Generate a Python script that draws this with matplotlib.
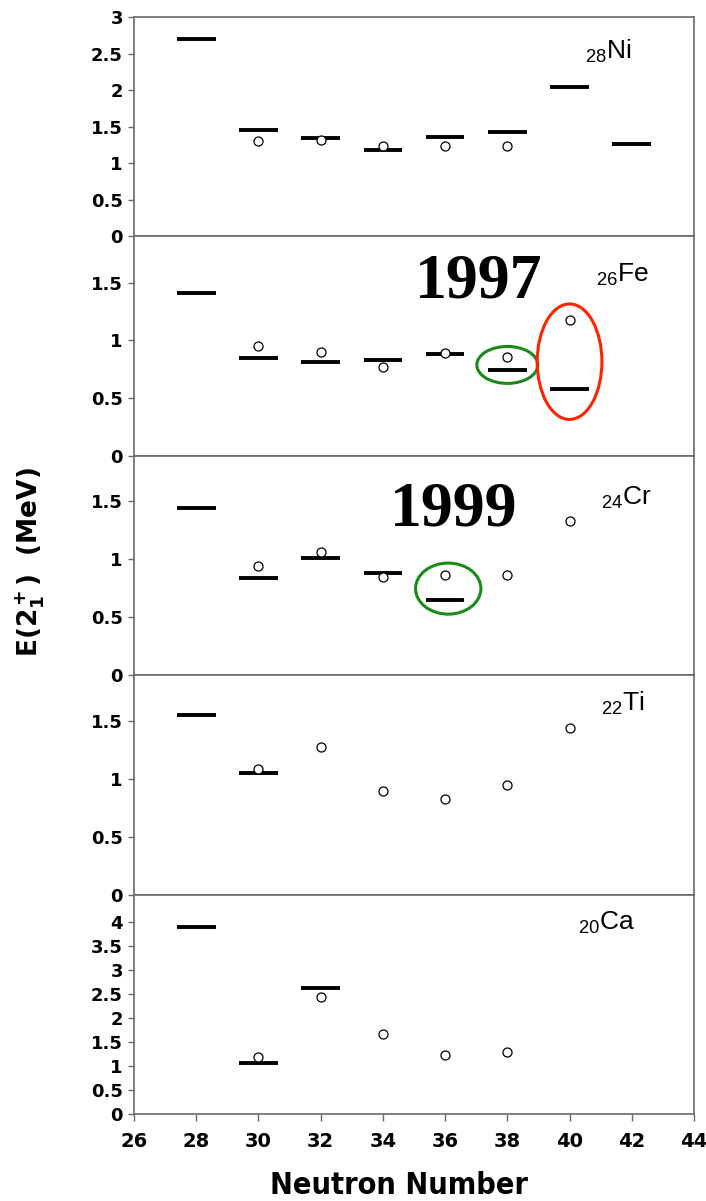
import matplotlib
matplotlib.use("Agg")
import matplotlib.pyplot as plt
from matplotlib.patches import Ellipse
from matplotlib.transforms import blended_transform_factory

# ---------------- data ----------------
ni_exp_n = [28, 30, 32, 34, 36, 38, 40, 42]
ni_exp_e = [2.70, 1.45, 1.34, 1.18, 1.355, 1.43, 2.04, 1.27]
ni_calc_n = [30, 32, 34, 36, 38]
ni_calc_e = [1.30, 1.32, 1.24, 1.24, 1.24]

fe_exp_n = [28, 30, 32, 34, 36, 38, 40]
fe_exp_e = [1.41, 0.845, 0.81, 0.83, 0.88, 0.74, 0.575]
fe_calc_n = [30, 32, 34, 36, 38, 40]
fe_calc_e = [0.95, 0.90, 0.765, 0.89, 0.855, 1.18]

cr_exp_n = [28, 30, 32, 34, 36]
cr_exp_e = [1.44, 0.84, 1.01, 0.88, 0.645]
cr_calc_n = [30, 32, 34, 36, 38, 40]
cr_calc_e = [0.94, 1.06, 0.85, 0.86, 0.86, 1.33]

ti_exp_n = [28, 30]
ti_exp_e = [1.556, 1.05]
ti_calc_n = [30, 32, 34, 36, 38, 40]
ti_calc_e = [1.085, 1.28, 0.90, 0.83, 0.95, 1.44]

ca_exp_n = [28, 30, 32]
ca_exp_e = [3.90, 1.06, 2.62]
ca_calc_n = [30, 32, 34, 36, 38]
ca_calc_e = [1.18, 2.44, 1.68, 1.23, 1.30]

element_z = ["28", "26", "24", "22", "20"]
element_sym = ["Ni", "Fe", "Cr", "Ti", "Ca"]
ymaxes = [3.0, 1.9, 1.89, 1.9, 4.58]
ytick_sets = [
    [0, 0.5, 1, 1.5, 2, 2.5, 3],
    [0, 0.5, 1, 1.5],
    [0, 0.5, 1, 1.5],
    [0, 0.5, 1, 1.5],
    [0, 0.5, 1, 1.5, 2, 2.5, 3, 3.5, 4],
]
xticks = [26, 28, 30, 32, 34, 36, 38, 40, 42, 44]

panels = [
    (ni_exp_n, ni_exp_e, ni_calc_n, ni_calc_e),
    (fe_exp_n, fe_exp_e, fe_calc_n, fe_calc_e),
    (cr_exp_n, cr_exp_e, cr_calc_n, cr_calc_e),
    (ti_exp_n, ti_exp_e, ti_calc_n, ti_calc_e),
    (ca_exp_n, ca_exp_e, ca_calc_n, ca_calc_e),
]
label_x = [40.5, 40.85, 41.0, 41.0, 40.28]
label_yfrac = [0.843, 0.826, 0.81, 0.87, 0.87]

# ---------------- figure ----------------
plt.rcParams['mathtext.fontset'] = 'custom'
plt.rcParams['mathtext.rm'] = 'Liberation Sans'
plt.rcParams['mathtext.it'] = 'Liberation Sans'
plt.rcParams['mathtext.bf'] = 'DejaVu Sans:bold'

fig = plt.figure(figsize=(7.06, 12.01), dpi=100)
gs = fig.add_gridspec(5, 1, left=134/706, right=694/706,
                      top=1-17/1201, bottom=1-1114/1201, hspace=0)

spine_col = "#6a6a6a"
half_w = 0.62
axes = []
for i, (en, ee, cn, ce) in enumerate(panels):
    ax = fig.add_subplot(gs[i])
    axes.append(ax)
    ax.set_xlim(26, 44)
    ax.set_ylim(0, ymaxes[i])
    ax.hlines(ee, [n - half_w for n in en], [n + half_w for n in en],
              colors="black", linewidth=2.8, zorder=3)
    ax.plot(cn, ce, linestyle="none", marker="o", markersize=6.5,
            markerfacecolor="white", markeredgecolor="black",
            markeredgewidth=0.9, zorder=4)
    ax.set_yticks(ytick_sets[i])
    ax.set_yticklabels([f"{t:g}" for t in ytick_sets[i]],
                       fontfamily="DejaVu Sans", fontweight="bold", fontsize=13)
    ax.tick_params(axis="y", direction="out", length=4, width=1.0,
                   color=spine_col, pad=4)
    for sp in ax.spines.values():
        sp.set_color(spine_col)
        sp.set_linewidth(1.2)
    trans = blended_transform_factory(ax.transData, ax.transAxes)
    ax.text(label_x[i], label_yfrac[i],
            r"$_{%s}$%s" % (element_z[i], element_sym[i]),
            transform=trans, ha="left", va="center",
            fontfamily="Liberation Sans", fontsize=19)
    if i < 4:
        ax.tick_params(axis="x", bottom=False, labelbottom=False)
    else:
        ax.set_xticks(xticks)
        ax.set_xticklabels([str(t) for t in xticks],
                           fontfamily="DejaVu Sans", fontweight="bold", fontsize=14)
        ax.tick_params(axis="x", direction="out", length=5, width=1.0,
                       color=spine_col, pad=8)

# annotations
ax_fe, ax_cr = axes[1], axes[2]
fig.text(479/706, 1-283/1201, "1997", ha="center", va="center",
         fontfamily="Liberation Serif", fontweight="bold", fontsize=46)
fig.text(454/706, 1-510/1201, "1999", ha="center", va="center",
         fontfamily="Liberation Serif", fontweight="bold", fontsize=46)

green = "#1a8a1a"
red = "#ff2200"
ax_fe.add_patch(Ellipse((38.0, 0.787), 1.96, 0.32, fill=False,
                        edgecolor=green, linewidth=2.2, zorder=5))
ax_fe.add_patch(Ellipse((40.0, 0.815), 2.08, 1.0, fill=False,
                        edgecolor=red, linewidth=2.2, zorder=5))
ax_cr.add_patch(Ellipse((36.1, 0.746), 2.1, 0.44, fill=False,
                        edgecolor=green, linewidth=2.2, zorder=5))

fig.text(30/706, 1-562/1201, r"E(2$\mathbf{^+_1}$)  (MeV)", rotation=90,
         ha="center", va="center", fontfamily="DejaVu Sans",
         fontweight="bold", fontsize=19)
fig.text(399/706, 1-1185/1201, "Neutron Number", ha="center", va="center",
         fontfamily="DejaVu Sans", fontweight="bold", fontstretch="condensed",
         fontsize=22)

fig.savefig("out.png", dpi=100)
